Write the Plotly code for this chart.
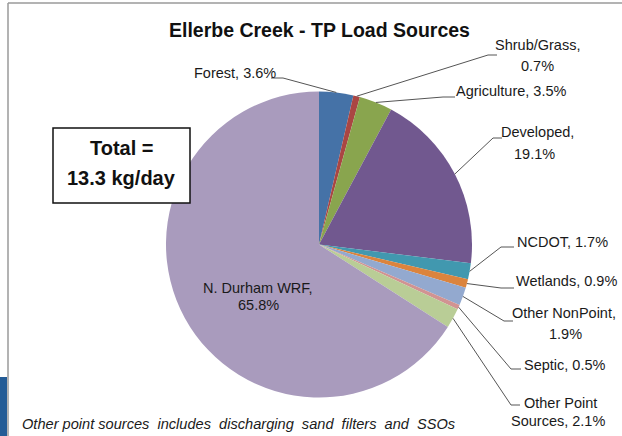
import math
import plotly.graph_objects as go

# slice data, clockwise from 12 o'clock
sources = ['Forest', 'Shrub/Grass', 'Agriculture', 'Developed', 'NCDOT', 'Wetlands',
           'Other NonPoint', 'Septic', 'Other Point Sources', 'N. Durham WRF']
load_pct = [3.6, 0.7, 3.5, 19.1, 1.7, 0.9, 1.9, 0.5, 2.1, 65.8]
slice_colors = ['#4572A7', '#AA4643', '#89A54E', '#71588F', '#4198AF', '#DB843D',
                '#93A9CF', '#D19392', '#B9CD96', '#A99BBD']
label_lines = [
    ['Forest, 3.6%'],
    ['Shrub/Grass,', '0.7%'],
    ['Agriculture, 3.5%'],
    ['Developed,', '19.1%'],
    ['NCDOT, 1.7%'],
    ['Wetlands, 0.9%'],
    ['Other NonPoint,', '1.9%'],
    ['Septic, 0.5%'],
    ['Other Point', 'Sources, 2.1%'],
    ['N. Durham WRF,', '65.8%'],
]

title_text = 'Ellerbe Creek - TP Load Sources'
total_lines = ['Total =', '13.3 kg/day']
footnote = 'Other point sources  includes  discharging  sand  filters  and  SSOs'

W, H = 622, 436
FONT = 'Liberation Sans, Arial, sans-serif'
TXT = '#1a1a1a'

# pie geometry in pixels
CX, CY, R = 319, 244.5, 153

# label placement (pixels): list of (x, y) per text line, anchor, and leader knee/end
label_pos = [
    dict(lines=[(235, 73)], anchor='center', knee=(283, 78), end=(271, 78)),
    dict(lines=[(537, 45), (537, 66)], anchor='center', knee=(488, 55), end=(497, 55)),
    dict(lines=[(511, 91)], anchor='center', knee=(443, 97), end=(455, 97)),
    dict(lines=[(537, 132), (534, 154)], anchor='center', knee=(493, 138), end=(502, 138)),
    dict(lines=[(515, 242)], anchor='left', knee=(501, 247), end=(514, 247)),
    dict(lines=[(514, 281)], anchor='left', knee=(501, 288), end=(514, 288)),
    dict(lines=[(564, 313), (565, 334)], anchor='center', knee=(504, 321), end=(513, 321)),
    dict(lines=[(522, 365)], anchor='left', knee=(511, 369), end=(521, 369)),
    dict(lines=[(560, 403), (558, 421)], anchor='center', knee=(511, 405), end=(520, 405)),
    dict(lines=[(258, 288), (258, 305)], anchor='center', knee=None, end=None),
]


def px(x):
    return x / W


def py(y):
    return 1 - y / H


fig = go.Figure(go.Pie(
    labels=sources,
    values=load_pct,
    marker=dict(colors=slice_colors, line=dict(width=0)),
    sort=False,
    direction='clockwise',
    rotation=0,
    textinfo='none',
    hoverinfo='label+percent',
    showlegend=False,
    domain=dict(x=[px(CX - R), px(CX + R)], y=[py(CY + R), py(CY - R)]),
))

annotations = []
shapes = []

# labels and leader lines
total = sum(load_pct)
cum = 0
for val, lines, pos in zip(load_pct, label_lines, label_pos):
    mid = (cum + val / 2) / total * 2 * math.pi
    cum += val
    for txt, (x, y) in zip(lines, pos['lines']):
        annotations.append(dict(
            x=px(x), y=py(y), xref='paper', yref='paper', text=txt, showarrow=False,
            xanchor=pos['anchor'], yanchor='middle',
            font=dict(family=FONT, size=14.5, color=TXT)))
    if pos['knee'] is None:
        continue
    ex, ey = CX + R * math.sin(mid), CY - R * math.cos(mid)
    kx, ky = pos['knee']
    tx, ty = pos['end']
    for (x0, y0), (x1, y1) in [((ex, ey), (kx, ky)), ((kx, ky), (tx, ty))]:
        shapes.append(dict(type='line', xref='paper', yref='paper',
                           x0=px(x0), y0=py(y0), x1=px(x1), y1=py(y1),
                           line=dict(color='#555555', width=1)))

# title
annotations.append(dict(x=px(319), y=py(30), xref='paper', yref='paper', text='<b>' + title_text + '</b>',
                        showarrow=False, xanchor='center', yanchor='middle',
                        font=dict(family=FONT, size=19.5, color='#111111')))

# total box
shapes.append(dict(type='rect', xref='paper', yref='paper', x0=px(53), x1=px(190), y0=py(128), y1=py(203),
                   line=dict(color='#111111', width=1.5), fillcolor='white'))
for txt, y in zip(total_lines, [148, 178]):
    annotations.append(dict(x=px(121.5), y=py(y), xref='paper', yref='paper', text='<b>' + txt + '</b>',
                            showarrow=False, xanchor='center', yanchor='middle',
                            font=dict(family=FONT, size=20, color='#111111')))

# footnote
annotations.append(dict(x=px(20), y=py(424), xref='paper', yref='paper', text='<i>' + footnote + '</i>',
                        showarrow=False, xanchor='left', yanchor='middle',
                        font=dict(family=FONT, size=14.6, color=TXT)))

# slide frame bits
shapes.append(dict(type='line', xref='paper', yref='paper', x0=px(8), x1=1, y0=py(3), y1=py(3),
                   line=dict(color='#9a9a9a', width=1.5)))
shapes.append(dict(type='line', xref='paper', yref='paper', x0=px(8), x1=px(8), y0=py(3), y1=0,
                   line=dict(color='#9a9a9a', width=1.5)))
shapes.append(dict(type='rect', xref='paper', yref='paper', x0=0, x1=px(7), y0=0, y1=py(377),
                   line=dict(width=0), fillcolor='#245C96'))

fig.update_layout(
    width=W, height=H,
    margin=dict(l=0, r=0, t=0, b=0),
    paper_bgcolor='white',
    plot_bgcolor='white',
    annotations=annotations,
    shapes=shapes,
)

fig.write_html("out.html", config={'displayModeBar': False},
               post_script="document.body.style.margin='0';document.body.style.overflow='hidden';")
